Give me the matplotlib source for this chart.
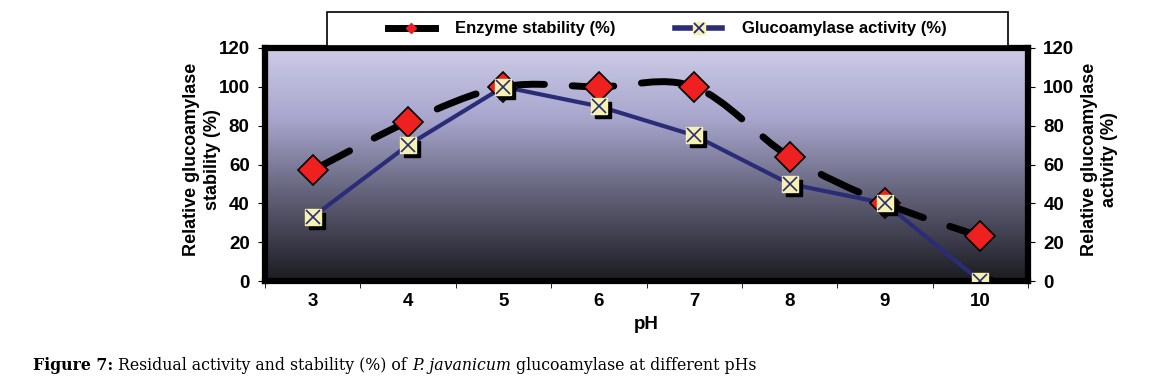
import numpy as np
import matplotlib
matplotlib.use("Agg")
import matplotlib.pyplot as plt
from matplotlib.colors import LinearSegmentedColormap
from matplotlib.path import Path
from matplotlib.patches import PathPatch, Rectangle
from matplotlib.lines import Line2D
from matplotlib.legend_handler import HandlerTuple
import matplotlib.transforms as mtransforms

plt.rcParams['font.family'] = ['Liberation Sans', 'DejaVu Sans']

ph_labels = ['3', '4', '5', '6', '7', '8', '9', '10']
stability = [57, 82, 100, 100, 100, 64, 40, 23]
activity = [33, 70, 100, 90, 75, 50, 40, 0]
yticks = [0, 20, 40, 60, 80, 100, 120]

NAVY = '#2b2c78'
RED = '#ee2020'
CREAM = '#f6f1ae'


def smooth_path(x, y):
    # excel style smoothed line, bezier segments through each point
    pts = np.column_stack([x, y]).astype(float)
    n = len(pts)
    verts = [pts[0]]
    codes = [Path.MOVETO]
    for i in range(n - 1):
        p0 = pts[i - 1] if i > 0 else pts[i]
        p1 = pts[i]
        p2 = pts[i + 1]
        p3 = pts[i + 2] if i + 2 < n else pts[i + 1]
        c1 = p1 + (p2 - p0) / 6.0
        c2 = p2 - (p3 - p1) / 6.0
        verts += [c1, c2, p2]
        codes += [Path.CURVE4] * 3
    return Path(verts, codes)


fig = plt.figure(figsize=(11.59, 3.87), dpi=100)
ax = fig.add_axes([265 / 1159, 1 - 281 / 387, 763 / 1159, 233 / 387])
x = np.arange(len(ph_labels))

# gradient background
cmap = LinearSegmentedColormap.from_list(
    'bg', [(0.0, '#1b1b22'), (0.35, '#5e5d74'), (0.7, '#a8a6cd'), (1.0, '#cdcbe6')])
grad = np.linspace(0, 1, 256).reshape(-1, 1)
ax.imshow(grad, cmap=cmap, origin='lower', aspect='auto',
          extent=[0, 1, 0, 1], transform=ax.transAxes, zorder=0)

ax.add_patch(PathPatch(smooth_path(x, stability), fill=False, edgecolor='black',
                       lw=5, linestyle=(0, (6.0, 4.0)), capstyle='round', zorder=2))
ax.plot(x, stability, linestyle='none', marker='D', ms=15, mfc=RED, mec='black',
        mew=1.2, zorder=4)

ax.plot(x, activity, color=NAVY, lw=3, zorder=3)
shadow = ax.transData + mtransforms.ScaledTranslation(4 / 100, -4 / 100, fig.dpi_scale_trans)
ax.plot(x, activity, linestyle='none', marker='s', ms=11, mfc='black', mec='black',
        transform=shadow, zorder=4)
ax.plot(x, activity, linestyle='none', marker='s', ms=11, mfc=CREAM, mec=CREAM, zorder=5)
ax.plot(x, activity, linestyle='none', marker='x', ms=10, mec=NAVY, mew=1.2, zorder=6)

ax.set_xlim(-0.5, len(ph_labels) - 0.5)
ax.set_ylim(0, 120)
ax.set_xticks(x)
ax.set_xticklabels(ph_labels, fontsize=13.5, fontweight='bold')
ax.set_xticks(np.arange(-0.5, len(ph_labels)), minor=True)
ax.tick_params(axis='x', which='major', length=0, pad=9)
ax.tick_params(axis='x', which='minor', length=5, direction='out')
ax.set_yticks(yticks)
ax.set_yticklabels([str(v) for v in yticks], fontsize=13.5, fontweight='bold')
ax.tick_params(axis='y', length=5, direction='out', pad=6)
for s in ax.spines.values():
    s.set_linewidth(4.5)
ax.set_xlabel('pH', fontsize=13.5, fontweight='bold', labelpad=4)
ax.set_ylabel('Relative glucoamylase\nstability (%)', fontsize=13, fontweight='bold',
              linespacing=1.25)
ax.yaxis.set_label_coords(-0.058, 0.52)

ax2 = ax.twinx()
ax2.set_ylim(0, 120)
ax2.set_yticks(yticks)
ax2.set_yticklabels([str(v) for v in yticks], fontsize=13.5, fontweight='bold')
ax2.tick_params(axis='y', length=5, direction='out', pad=6)
for s in ax2.spines.values():
    s.set_visible(False)
ax2.set_ylabel('Relative glucoamylase\nactivity (%)', fontsize=13, fontweight='bold',
               linespacing=1.25)
ax2.yaxis.set_label_coords(1.069, 0.52)

# legend
h1 = Line2D([], [], color='black', lw=5, marker='D', ms=5, mfc=RED, mec=RED)
h2a = Line2D([], [], color=NAVY, lw=4)
h2b = Line2D([], [], linestyle='none', marker='s', ms=9, mfc=CREAM, mec=CREAM)
h2c = Line2D([], [], linestyle='none', marker='x', ms=7, mec=NAVY, mew=1.3)
leg = fig.legend([h1, (h2a, h2b, h2c)],
                 ['Enzyme stability (%)', 'Glucoamylase activity (%)'],
                 handler_map={tuple: HandlerTuple(ndivide=1)},
                 ncol=2, loc='center left', bbox_to_anchor=(388 / 1159, 1 - 29 / 387),
                 frameon=False, prop={'weight': 'bold', 'size': 12},
                 handlelength=2.8, columnspacing=3.6, borderpad=0, borderaxespad=0,
                 handletextpad=1.2)
leg.set_zorder(10)
fig.patches.append(Rectangle((327 / 1159, 1 - 46 / 387), 681 / 1159, 34 / 387,
                             transform=fig.transFigure, facecolor='white',
                             edgecolor='black', lw=1.2, zorder=1))

# caption
serif = ['DejaVu Serif']
t1 = fig.text(33 / 1159, 1 - 370 / 387, 'Figure 7:', fontsize=11.3, fontweight='bold',
              family=serif, va='baseline')
t2 = ax.annotate(' Residual activity and stability (%) of ', xy=(1, 0), xycoords=t1,
                 va='bottom', fontsize=11.3, family=serif, annotation_clip=False)
t3 = ax.annotate('P. javanicum', xy=(1, 0), xycoords=t2, va='bottom', fontsize=11.3,
                 family=serif, style='italic', annotation_clip=False)
ax.annotate(' glucoamylase at different pHs', xy=(1, 0), xycoords=t3, va='bottom',
            fontsize=11.3, family=serif, annotation_clip=False)

fig.savefig('out.png', dpi=100)
